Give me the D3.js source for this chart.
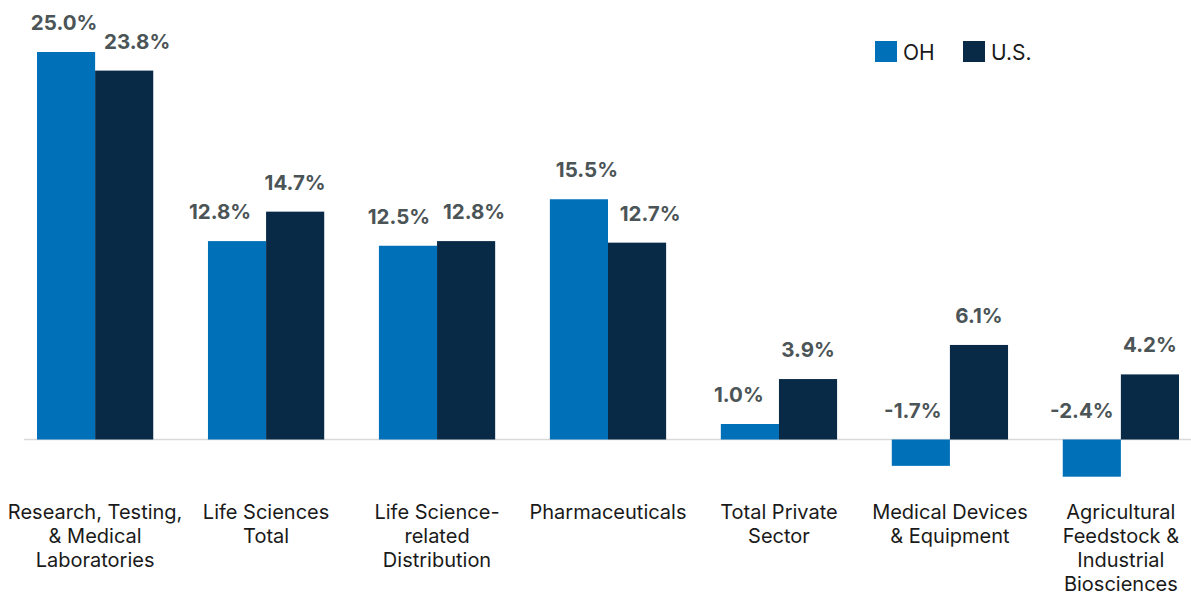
<!DOCTYPE html>
<html>
<head>
<meta charset="utf-8">
<script src="https://cdn.jsdelivr.net/npm/d3@7"></script>
<style>
    body { margin: 0; background: #fff; }
    svg { display: block; }
</style>
</head>
<body>
<div id="byIndustry"><svg></svg></div>
<script>
/** Chart data **/
var categories = ["Research, Testing, & Medical Laboratories", "Life Sciences Total",
                  "Life Science-related Distribution", "Pharmaceuticals",
                  "Total Private Sector", "Medical Devices & Equipment",
                  "Agricultural Feedstock & Industrial Biosciences"];

var categoryLines = [["Research, Testing,", "& Medical", "Laboratories"],
                     ["Life Sciences", "Total"],
                     ["Life Science-", "related", "Distribution"],
                     ["Pharmaceuticals"],
                     ["Total Private", "Sector"],
                     ["Medical Devices", "& Equipment"],
                     ["Agricultural", "Feedstock &", "Industrial", "Biosciences"]];

var seriesNames = ["OH", "U.S."];
var ohValues = [25.0, 12.8, 12.5, 15.5, 1.0, -1.7, -2.4];
var usValues = [23.8, 14.7, 12.8, 12.7, 3.9, 6.1, 4.2];

// Hand nudges for value labels (px), so neighbouring labels don't collide.
var labelNudgeOH = [-2, -17, -9, 8, -11, -8, -10];
var labelNudgeUS = [13, 0, 8, 13, 0, 0, 0];


function drawChart()
{
    var mod_width = 1191;
    var mod_height = 595;

    var color_oh    = '#0070b9';
    var color_us    = '#082a47';
    var color_label = '#4b5456';
    var color_zero  = '#d9d9d9';
    var font        = "'Inter', 'Lato', sans-serif";

    var svg = d3.select("#byIndustry").select("svg")
        .attr("width", mod_width)
        .attr("height", mod_height);

    // Band scale: first bar starts at 37, last ends near 1179.
    var xScale = d3.scaleBand()
        .domain(categories)
        .range([37, 1179])
        .paddingInner(0.32)
        .paddingOuter(0);

    var xSub = d3.scaleBand()
        .domain(seriesNames)
        .range([0, xScale.bandwidth()]);

    var yScale = d3.scaleLinear()
        .domain([0, 25])
        .range([439.5, 52]);

    var colors = d3.scaleOrdinal().domain(seriesNames).range([color_oh, color_us]);

    // Zero line
    svg.append("line")
        .attr("x1", 24)
        .attr("x2", mod_width)
        .attr("y1", yScale(0))
        .attr("y2", yScale(0))
        .attr("stroke", color_zero)
        .attr("stroke-width", 1.5);

    var rows = [];
    categories.forEach(function(c, i) {
        rows.push({cat: c, series: "OH", value: ohValues[i], nudge: labelNudgeOH[i]});
        rows.push({cat: c, series: "U.S.", value: usValues[i], nudge: labelNudgeUS[i]});
    });

    svg.append("g")
        .selectAll("rect")
        .data(rows)
        .enter()
        .append("rect")
        .attr("x", function(d) { return xScale(d.cat) + xSub(d.series); })
        .attr("y", function(d) { return Math.min(yScale(d.value), yScale(0)); })
        .attr("width", xSub.bandwidth())
        .attr("height", function(d) { return Math.abs(yScale(d.value) - yScale(0)); })
        .style("fill", function(d) { return colors(d.series); });

    // Value labels
    svg.append("g")
        .selectAll("text")
        .data(rows)
        .enter()
        .append("text")
        .attr("x", function(d) {
            return xScale(d.cat) + xSub(d.series) + xSub.bandwidth() / 2 + d.nudge;
        })
        .attr("y", function(d) { return Math.min(yScale(d.value), yScale(0)) - 22; })
        .attr("text-anchor", "middle")
        .style("font-family", font)
        .style("font-weight", 700)
        .style("font-size", "20.5px")
        .style("fill", color_label)
        .text(function(d) { return d.value.toFixed(1) + "%"; });

    // Category labels
    var catG = svg.append("g")
        .selectAll("text")
        .data(categories)
        .enter()
        .append("text")
        .attr("x", function(d) { return xScale(d) + xScale.bandwidth() / 2; })
        .attr("y", 519)
        .attr("text-anchor", "middle")
        .style("font-family", font)
        .style("font-size", "20px")
        .style("fill", "#1a1a1a");

    catG.selectAll("tspan")
        .data(function(d, i) { return categoryLines[i]; })
        .enter()
        .append("tspan")
        .attr("x", function() { return d3.select(this.parentNode).attr("x"); })
        .attr("dy", function(d, i) { return i == 0 ? 0 : 24; })
        .text(function(d) { return d; });

    // Legend
    var legend = svg.append("g")
        .selectAll("g")
        .data(seriesNames)
        .enter()
        .append("g")
        .attr("transform", function(d, i) { return "translate(" + (875 + i * 88) + ", 41)"; });

    legend.append("rect")
        .attr("width", 22)
        .attr("height", 21)
        .style("fill", function(d) { return colors(d); });

    legend.append("text")
        .attr("x", 28)
        .attr("y", 19)
        .style("font-family", font)
        .style("font-size", "21px")
        .style("fill", "#1a1a1a")
        .text(function(d) { return d; });
}

drawChart();
</script>
</body>
</html>
